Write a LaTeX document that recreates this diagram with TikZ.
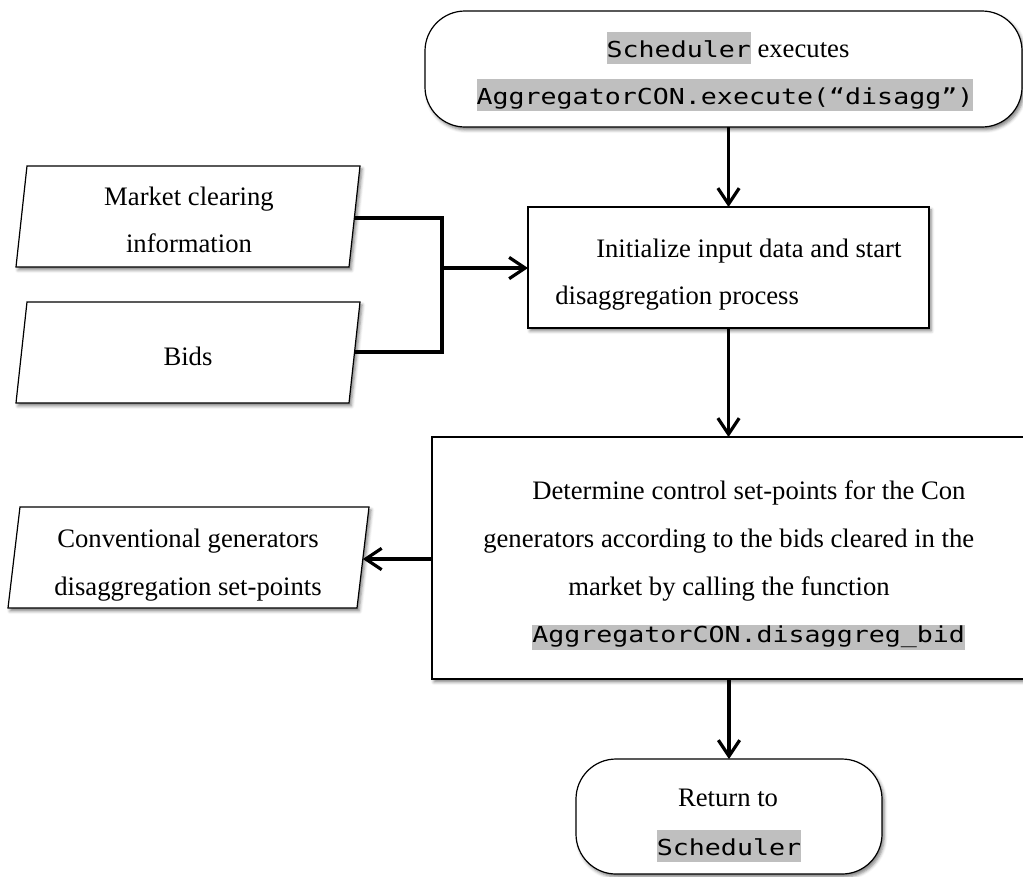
\documentclass[tikz,border=0pt]{standalone}
\usepackage{fontspec}
\setmainfont{Liberation Serif}
\newfontfamily\monof[FakeStretch=1.21]{DejaVu Sans Mono}
\usetikzlibrary{arrows.meta,shadows,shadows.blur}
\definecolor{hlgray}{HTML}{BFBFBF}
\newcommand{\mymono}[1]{{\monof\fontsize{16.5pt}{20pt}\selectfont #1}}
\newcommand{\hlT}[1]{{\setlength{\fboxsep}{0pt}\colorbox{hlgray}{\rule[-5.25pt]{0pt}{24pt}\mymono{#1}}}}
\newcommand{\hlB}[1]{{\setlength{\fboxsep}{0pt}\colorbox{hlgray}{\rule[-6pt]{0pt}{18.75pt}\mymono{#1}}}}
\tikzset{
  shad/.style={blur shadow={shadow xshift=1.6pt, shadow yshift=-2.2pt, shadow blur radius=2.4pt, shadow opacity=50}},
  boxshape/.style={draw=black, line width=0.9pt, fill=white, shad, inner sep=0pt, outer sep=0pt},
  termshape/.style={boxshape, rounded corners=30pt},
  txt/.style={inner sep=0pt, font=\fontsize{20pt}{24pt}\selectfont},
  conn/.style={line width=2.4pt, line join=miter},
  arr/.style={conn, -{Straight Barb[length=12pt,width=16pt]}}
}
\begin{document}
\begin{tikzpicture}[x=0.75pt,y=-0.75pt]
\useasboundingbox (0,0) rectangle (1023,876);

% terminals and process boxes
\node[termshape, minimum width=597*0.75pt, minimum height=116*0.75pt] (t1) at (723.5,69) {};
\node[boxshape, minimum width=401*0.75pt, minimum height=121*0.75pt] (b2) at (728.5,267.5) {};
\node[boxshape, minimum width=620*0.75pt, minimum height=242*0.75pt] (b3) at (742,558) {};
\node[termshape, minimum width=306*0.75pt, minimum height=115*0.75pt] (t2) at (729,816.5) {};

% data (parallelogram) boxes
\path[boxshape] (16,267) -- (27,166) -- (360,166) -- (349,267) -- cycle;
\path[boxshape] (16,403) -- (27,302) -- (360,302) -- (349,403) -- cycle;
\path[boxshape] (8,608) -- (20,507) -- (369,507) -- (357,608) -- cycle;
\coordinate (p1e) at (354.3,218);
\coordinate (p2e) at (354.6,352);
\coordinate (p3e) at (362.8,559);
\coordinate (jt) at (442,218);
\coordinate (jb) at (442,352);
\coordinate (jm) at (442,268);

% texts
\node[txt, anchor=base] (t1a) at (728,57) {\hlT{Scheduler} executes};
\node[txt, anchor=base] (t1b) at (725,104) {\hlT{AggregatorCON.execute(“disagg”)}};
\node[txt, anchor=base west] (b2a) at (596,257) {Initialize input data and start};
\node[txt, anchor=base west] (b2b) at (555,304) {disaggregation process};
\node[txt, anchor=base west] (b3a) at (532,499) {Determine control set-points for the Con};
\node[txt, anchor=base west] (b3b) at (483,547) {generators according to the bids cleared in the};
\node[txt, anchor=base west] (b3c) at (568,595) {market by calling the function};
\node[txt, anchor=base west] (b3d) at (532,642) {\hlB{AggregatorCON.disaggreg\_bid}};
\node[txt, anchor=base] (p1a) at (189,205) {Market clearing};
\node[txt, anchor=base] (p1b) at (189,252) {information};
\node[txt, anchor=base] (p2a) at (188,365) {Bids};
\node[txt, anchor=base] (p3a) at (188,547) {Conventional generators};
\node[txt, anchor=base] (p3b) at (188,595) {disaggregation set-points};
\node[txt, anchor=base] (t2a) at (728,806) {Return to};
\node[txt, anchor=base] (t2b) at (729,855) {\hlT{Scheduler}};

% connectors
\draw[arr] (b2.north |- t1.south) -- (b2.north);
\draw[arr] (b2.south) -- (b2.south |- b3.north);
\draw[arr] (t2.north |- b3.south) -- (t2.north);
\draw[conn] (p1e) -- (jt) -- (jb) -- (p2e);
\draw[arr] (jm) -- (jm -| b2.west);
\draw[arr] (b3.west |- p3e) -- (p3e);
\end{tikzpicture}
\end{document}
